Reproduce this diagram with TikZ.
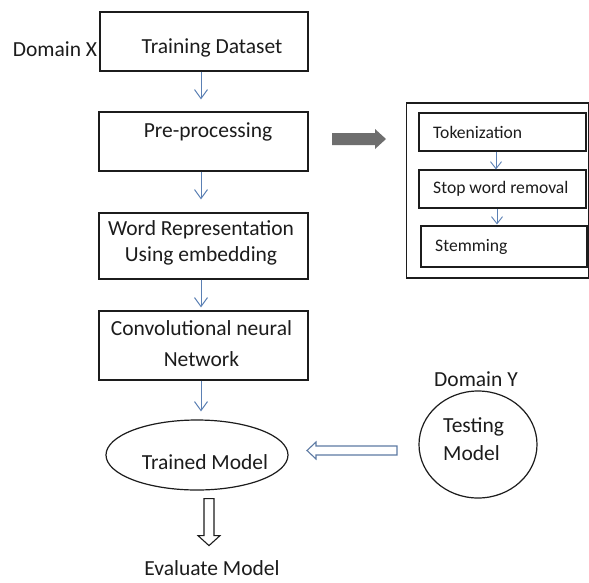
\documentclass[tikz,border=0pt]{standalone}
\usepackage{fontspec}
\setmainfont{Carlito}
\usetikzlibrary{arrows.meta,shapes.geometric,calc}
\definecolor{flowblue}{HTML}{5B80B4}
\definecolor{inkc}{HTML}{1C1C1C}
\definecolor{grayarrow}{HTML}{6E6E6E}
\definecolor{hollowblue}{HTML}{5D7AA3}
\begin{document}
\begin{tikzpicture}[x=1pt,y=-1pt,
  boxnode/.style={draw=inkc,line width=1.2pt,inner sep=0pt,rectangle},
  txt/.style={text=inkc,inner sep=0pt,font=\fontsize{21.5}{26}\selectfont},
  smalltxt/.style={text=inkc,inner sep=0pt,anchor=west,font=\fontsize{17.6}{20}\selectfont},
  flow/.style={draw=flowblue,line width=1pt,-{Straight Barb[length=9pt,width=13pt]}},
  smallflow/.style={draw=flowblue,line width=0.9pt,-{Straight Barb[length=7pt,width=11pt]}}
]
\useasboundingbox (0,0) rectangle (589,582);
\fill[white] (0,0) rectangle (589,582);

% left column boxes
\node[boxnode,minimum width=208pt,minimum height=59pt] (train) at (204,41.5) {};
\node[txt] (traintxt) at (212,48) {Training Dataset};
\node[txt] (domx) at (55,49) {Domain X};

\node[boxnode,minimum width=209pt,minimum height=59pt] (pre) at (203.5,141.5) {};
\node[txt] (pretxt) at (208,132) {Pre-processing};

\node[boxnode,minimum width=209pt,minimum height=66pt] (word) at (203.5,246) {};
\node[txt,align=center] (wordtxt) at (201,243) {Word Representation\\Using embedding};

\node[boxnode,minimum width=209pt,minimum height=69pt] (cnn) at (203.5,345.5) {};
\node[txt,align=center,font=\fontsize{21.5}{31}\selectfont] (cnntxt) at (201.5,343.5) {Convolutional neural\\Network};

\node[draw=inkc,line width=1.2pt,ellipse,inner sep=0pt,minimum width=182pt,minimum height=70pt] (trained) at (197,455) {};
\node[txt] (trainedtxt) at (205,462) {Trained Model};

\node[txt] (eval) at (212,568) {Evaluate Model};

% blue arrows
\draw[flow] ([xshift=-3pt]train.south) -- ([xshift=-2.5pt,yshift=12pt]pre.north);
\draw[flow] ([xshift=-2.5pt]pre.south) -- ([xshift=-2.5pt,yshift=13pt]word.north);
\draw[flow] ([xshift=-2.5pt]word.south) -- ([xshift=-2.5pt,yshift=3pt]cnn.north);
\draw[flow] ([xshift=-2.5pt]cnn.south) -- ([xshift=4pt,yshift=8pt]trained.north);

% hollow down arrow
\coordinate (dtop) at ($(trained.south)+(12,8)$);
\draw[inkc,line width=1.1pt,fill=white,line join=miter]
  (dtop) ++(-5,0) -- ++(10,0) -- ++(0,37) -- ++(6,0) -- ++(-11,10) -- ++(-11,-10) -- ++(6,0) -- cycle;

% gray block arrow
\coordinate (gstart) at (332,139);
\fill[grayarrow] (gstart) ++(0,-6) -- ++(43,0) -- ++(0,-4) -- ++(11,10) -- ++(-11,10) -- ++(0,-4) -- ++(-43,0) -- cycle;

% right panel
\node[draw=inkc,line width=1.2pt,inner sep=0pt,minimum width=182pt,minimum height=175pt] (panel) at (497.5,190.5) {};
\node[boxnode,minimum width=167pt,minimum height=38pt] (tok) at (502.5,132) {};
\node[smalltxt] (toktxt) at (433,132) {Tokenization};
\node[boxnode,minimum width=167pt,minimum height=38pt] (stop) at (502.5,189) {};
\node[smalltxt] (stoptxt) at (433,189) {Stop word removal};
\node[boxnode,minimum width=166pt,minimum height=41pt] (stem) at (504,246.5) {};
\node[smalltxt] (stemtxt) at (435,247) {Stemming};
\draw[smallflow] ([xshift=-6.5pt]tok.south) -- ([xshift=-6.5pt]stop.north);
\draw[smallflow] ([xshift=-5.5pt]stop.south) -- ([xshift=-7pt,yshift=1pt]stem.north);

% testing model
\node[txt] (domy) at (476,379) {Domain Y};
\node[draw=inkc,line width=1.2pt,ellipse,inner sep=0pt,minimum width=118pt,minimum height=107pt] (test) at (478,444.5) {};
\node[txt,align=left,anchor=west,font=\fontsize{21.5}{28}\selectfont] (testtxt) at (443,439) {Testing\\Model};

% hollow left arrow
\coordinate (ltip) at (307,450.5);
\draw[hollowblue,line width=1.1pt,fill=white,line join=miter]
  (ltip) -- ++(9,-8.5) -- ++(0,4) -- ++(81,0) -- ++(0,9) -- ++(-81,0) -- ++(0,4) -- cycle;
\end{tikzpicture}
\end{document}
